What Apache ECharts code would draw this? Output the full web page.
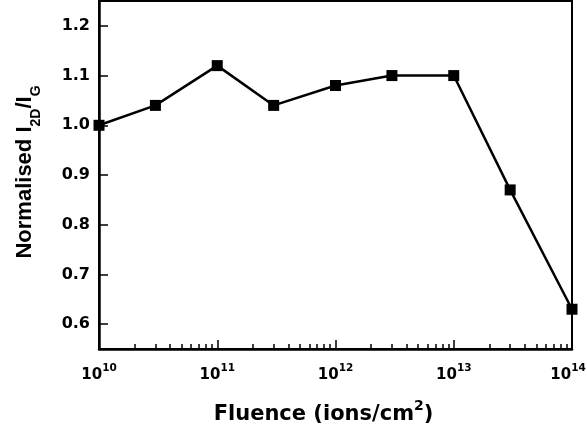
<!DOCTYPE html>
<html><head><meta charset="utf-8">
<script src="https://cdn.jsdelivr.net/npm/echarts@6/dist/echarts.min.js"></script>
<style>html,body{margin:0;padding:0;background:#fff}#c{width:587px;height:425px}</style>
</head><body><div id="c"></div>
<script>
// Data
const fluence = [1e10, 3e10, 1e11, 3e11, 1e12, 3e12, 1e13, 3e13, 1e14];
const normRatio = [1.00, 1.04, 1.12, 1.04, 1.08, 1.10, 1.10, 0.87, 0.63];
const xMajorTicks = [1e10, 1e11, 1e12, 1e13, 1e14];
const xMinorMultipliers = [2, 3, 4, 5, 6, 7, 8, 9];
const yTicks = [0.6, 0.7, 0.8, 0.9, 1.0, 1.1, 1.2];

const xMinorTicks = [];
xMajorTicks.slice(0, -1).forEach(d => xMinorMultipliers.forEach(m => xMinorTicks.push(d * m)));

const HF = 'DejaVu Sans';
const VF = 'Liberation Sans';
const gridPos = {left: 99, right: 15, top: 1, bottom: 76, containLabel: false, outerBoundsMode: 'none'};
const supStyle = {fontFamily: HF, fontWeight: 'bold', fontSize: 10.5, color: '#000', lineHeight: 10, verticalAlign: 'top'};

const chart = echarts.init(document.getElementById('c'), null, {renderer: 'canvas'});
chart.setOption({
  animation: false,
  backgroundColor: '#fff',
  grid: [
    Object.assign({show: true, borderColor: '#000', borderWidth: 2, backgroundColor: 'transparent'}, gridPos),
    Object.assign({show: false}, gridPos)
  ],
  xAxis: [{
    type: 'log', logBase: 10, min: 1e10, max: 1e14, gridIndex: 0,
    name: '{b|Fluence (ions/cm}{p|2}{b|)}',
    nameLocation: 'middle', nameGap: 50,
    nameTextStyle: {
      padding: [0, 24, 0, 0],
      rich: {
        b: {fontFamily: HF, fontWeight: 'bold', fontSize: 21, color: '#000', lineHeight: 26, verticalAlign: 'bottom'},
        p: {fontFamily: HF, fontWeight: 'bold', fontSize: 14, color: '#000', lineHeight: 11, verticalAlign: 'top'}
      }
    },
    axisLine: {show: true, lineStyle: {color: '#000', width: 2.5}},
    axisTick: {show: true, inside: true, length: 9, lineStyle: {color: '#000', width: 1.5}, customValues: xMajorTicks},
    axisLabel: {
      customValues: xMajorTicks, margin: 14,
      formatter: v => {
        const e = Math.round(Math.log10(v));
        return '{b|10}{' + (v >= xMajorTicks[xMajorTicks.length - 1] ? 'e' : 's') + '|' + e + '}';
      },
      rich: {
        b: {fontFamily: HF, fontWeight: 'bold', fontSize: 15, color: '#000', lineHeight: 20, verticalAlign: 'bottom'},
        s: supStyle,
        e: Object.assign({}, supStyle, {padding: [0, 8, 0, 0]})
      }
    },
    splitLine: {show: false}, minorTick: {show: false}
  }, {
    type: 'log', logBase: 10, min: 1e10, max: 1e14, gridIndex: 1,
    axisLine: {show: false},
    axisTick: {show: true, inside: true, length: 5, lineStyle: {color: '#000', width: 1.5}, customValues: xMinorTicks},
    axisLabel: {show: false},
    splitLine: {show: false}
  }],
  yAxis: [{
    type: 'value', min: 0.55, max: 1.25, gridIndex: 0,
    name: '{b|Normalised I}{s|2D}{b|/I}{s|G}',
    nameLocation: 'middle', nameGap: 56,
    nameTextStyle: {
      padding: [0, 0, 0, 6],
      rich: {
        b: {fontFamily: VF, fontWeight: 'bold', fontSize: 22, color: '#000', lineHeight: 25, verticalAlign: 'top'},
        s: {fontFamily: VF, fontWeight: 'bold', fontSize: 14, color: '#000', lineHeight: 29, verticalAlign: 'bottom'}
      }
    },
    axisLine: {show: true, lineStyle: {color: '#000', width: 2.5}},
    axisTick: {show: true, inside: true, length: 9, lineStyle: {color: '#000', width: 1.5}, customValues: yTicks},
    axisLabel: {
      customValues: yTicks, margin: 9,
      formatter: v => v.toFixed(1),
      fontFamily: HF, fontWeight: 'bold', fontSize: 16, color: '#000'
    },
    splitLine: {show: false}
  }, {
    type: 'value', min: 0.55, max: 1.25, gridIndex: 1, show: false
  }],
  series: [{
    type: 'line', xAxisIndex: 0, yAxisIndex: 0,
    data: fluence.map((x, i) => [x, normRatio[i]]),
    symbol: 'rect', symbolSize: 11, clip: false,
    lineStyle: {color: '#000', width: 2.5},
    itemStyle: {color: '#000'}
  }]
});
</script></body></html>
